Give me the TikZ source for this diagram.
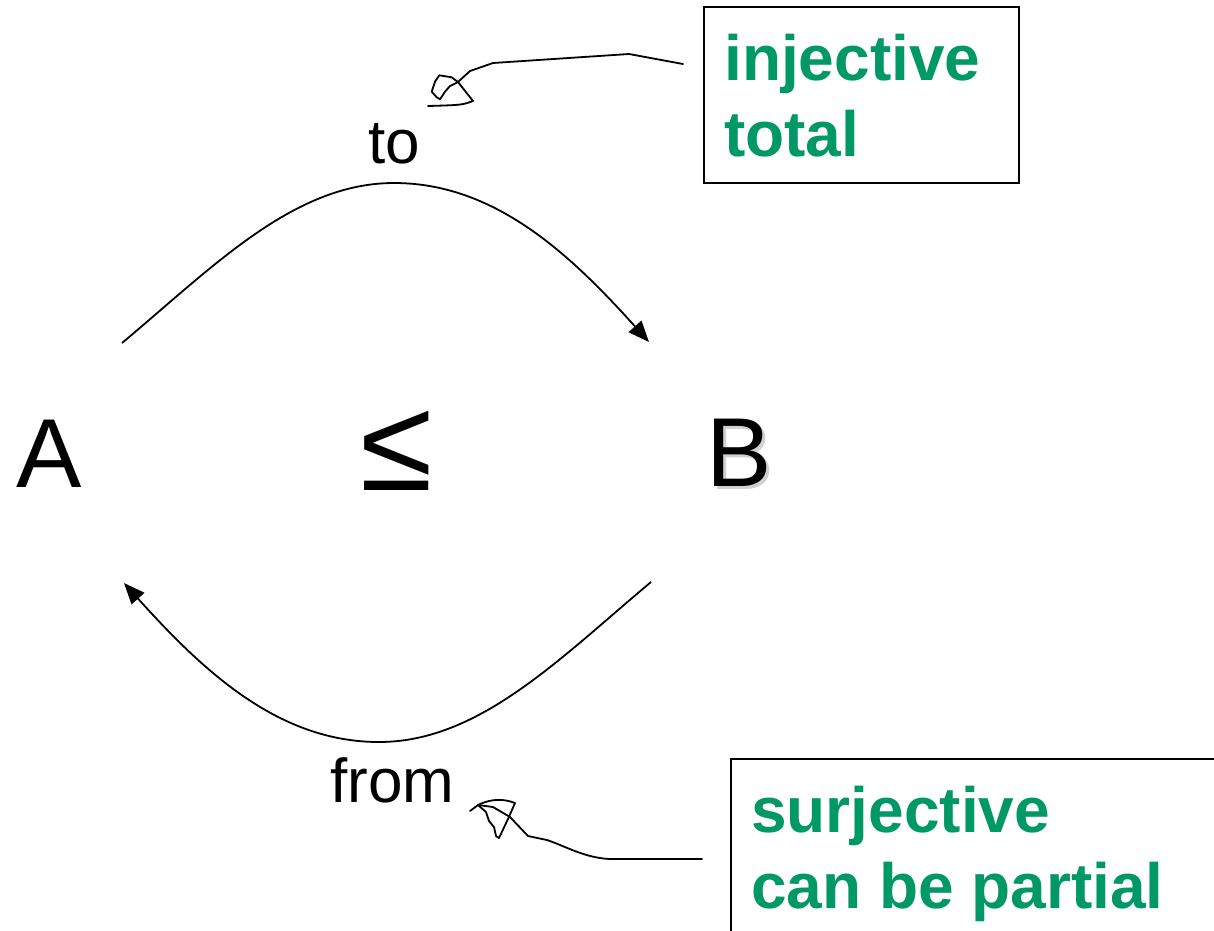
\documentclass[tikz,border=0pt]{standalone}
\usepackage{fontspec}
\setmainfont{Liberation Sans}
\usetikzlibrary{arrows.meta}
\definecolor{notegreen}{RGB}{0,153,102}
\begin{document}
\begin{tikzpicture}[x=1pt,y=-1pt,
  big/.style={font=\fontsize{98}{98}\selectfont, inner sep=0pt, anchor=base},
  lbl/.style={font=\fontsize{62}{62}\selectfont, inner sep=0pt, anchor=base},
  note/.style={font=\fontsize{64}{64}\selectfont\bfseries, text=notegreen, inner sep=0pt, anchor=base west},
  notebox/.style={draw, line width=1.6pt, anchor=north west, inner sep=0pt},
  bow/.style={line width=1.8pt, -{Triangle[length=21pt,width=17pt]}},
  scribble/.style={line width=1.8pt, line join=round, line cap=round}]
\useasboundingbox (0,0) rectangle (1214,930);
\clip (0,0) rectangle (1214,930);

% main letters
\node[big] (A) at (49.5,487) {A};
\node[big, text=black!18] (Bshadow) at (742,489) {B};
\node[big] (B) at (739,486) {B};
\node[inner sep=0pt, anchor=base, font=\fontsize{132}{132}\selectfont] (le) at (397,490) {≤};

% labels
\node[lbl] (to) at (394,163) {to};
\node[lbl] (from) at (392.5,802) {from};

% connector end points
\coordinate (Aout) at (122,343);
\coordinate (Bin) at (649,342);
\coordinate (Bout) at (651,582);
\coordinate (Ain) at (124,583);

\draw[bow] (Aout) .. controls (214,266) and (294,183) .. (394,183)
  .. controls (494,183) and (569,253) .. (Bin);
\draw[bow] (Bout) .. controls (559,659) and (479,742) .. (379,742)
  .. controls (279,742) and (204,672) .. (Ain);

% note boxes
\node[notebox, minimum width=315pt, minimum height=176pt] (topbox) at (703,6) {};
\node[note] (inj) at (724,80.7) {injective};
\node[note] (tot) at (724,156) {total};

\node[notebox, minimum width=520pt, minimum height=220pt] (botbox) at (730,758) {};
\node[note] (sur) at (751,832) {surjective};
\node[note] (cbp) at (751,908) {can be partial};

% hand-drawn callouts
\coordinate (t0) at (683,64);
\coordinate (t1) at (428,106);
\draw[scribble] (t0) -- (629,54) -- (493,63) -- (470,71) -- (458,82) -- (473,101)
  .. controls (462,105) .. (t1);
\draw[scribble] (458,82) -- (451.7,77.3) -- (439.3,75.3) -- (435,81.7) -- (431.7,91.7)
  -- (436.7,97.3) -- (440,99.3) -- (445,91.7) -- (450,86) -- cycle;

\coordinate (b0) at (702,859);
\coordinate (b1) at (470,811);
\draw[scribble] (b0) -- (610,859) .. controls (585,858) and (565,846) .. (547,840)
  -- (528,836) -- (510,817) -- (493,807) -- (478,805) -- (b1);
\draw[scribble] (478,805) .. controls (492,798) and (505,799) .. (515,803)
  -- (508,819) -- (499,838) -- (496,836) -- (494,827) -- (489,821) -- (486,812) -- cycle;
\end{tikzpicture}
\end{document}
